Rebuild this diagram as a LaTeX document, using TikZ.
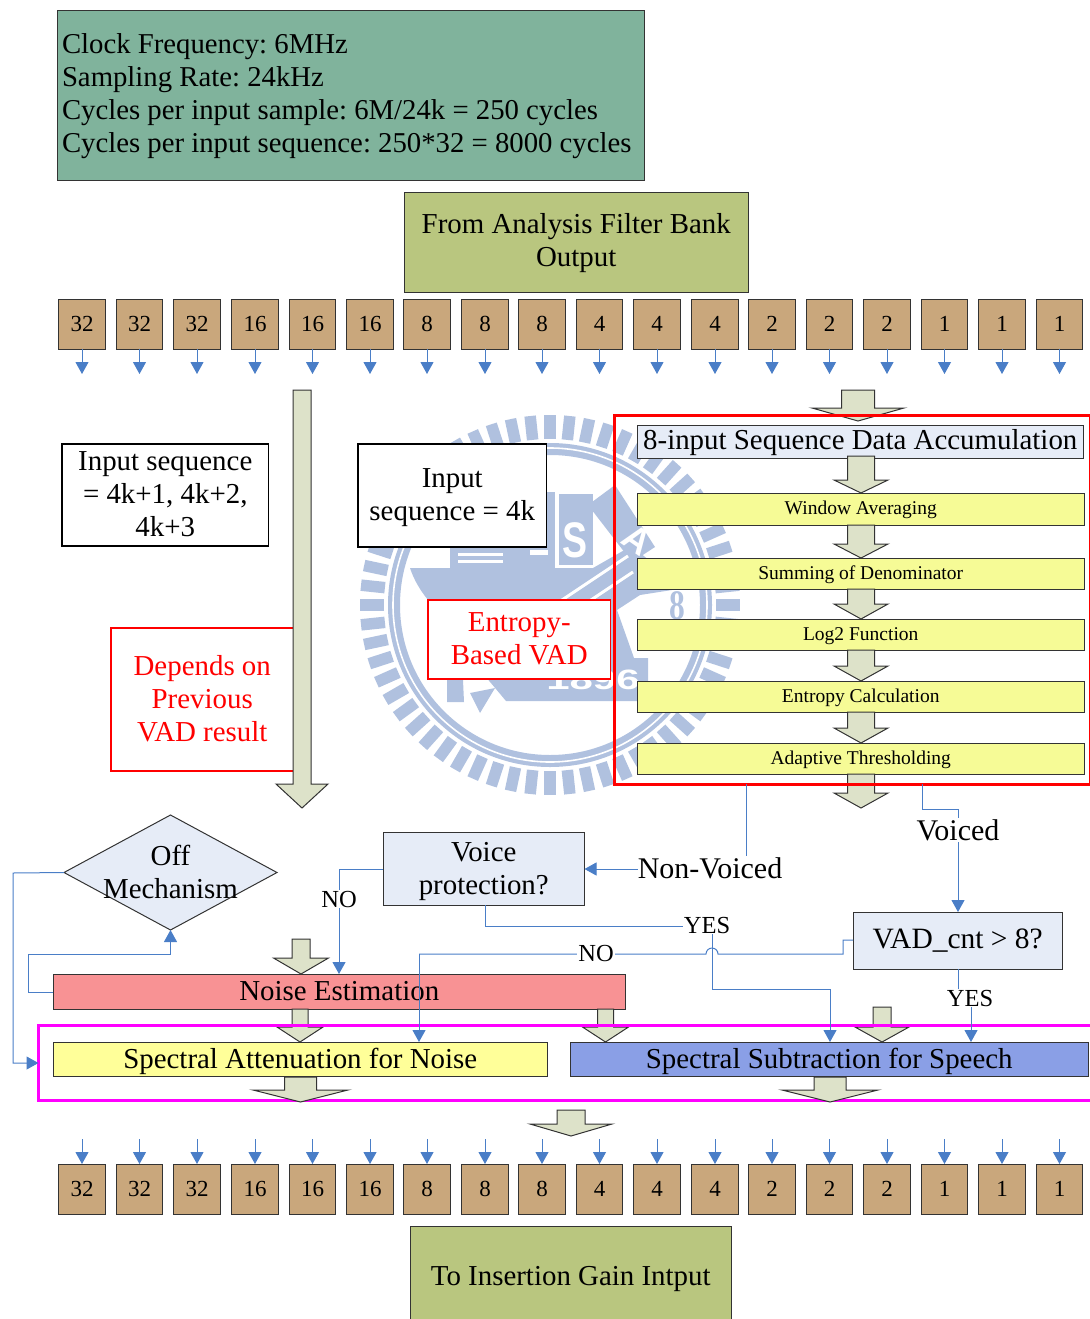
\documentclass[tikz,border=0pt]{standalone}
\usepackage{fontspec}
\setmainfont{Liberation Serif}
\newfontfamily\sealfont{Liberation Sans}
\usetikzlibrary{shapes.geometric,arrows.meta}
\definecolor{conn}{HTML}{4A7EC7}
\definecolor{seal}{HTML}{B0C1DF}
\definecolor{tan}{HTML}{C9A77C}
\definecolor{olive}{HTML}{B9C67F}
\definecolor{green1}{HTML}{80B39C}
\definecolor{pale}{HTML}{E6ECF7}
\definecolor{yel}{HTML}{F6FB96}
\definecolor{yel2}{HTML}{FFFF99}
\definecolor{pinkr}{HTML}{F89294}
\definecolor{blu}{HTML}{8A9FE6}
\definecolor{barr}{HTML}{DDE2C9}
\definecolor{purem}{HTML}{FF00FF}
\definecolor{purer}{HTML}{FF0000}
\tikzset{
 box/.style={draw=black!80,line width=1pt,inner sep=0pt,outer sep=0pt,align=center,anchor=north west},
 num/.style={box,fill=tan,minimum width=46.5pt,minimum height=50pt,anchor=center,font=\fontsize{23}{23}\selectfont},
 fl/.style={conn,line width=1pt},
 fa/.style={fl,-{Triangle[length=12pt,width=13pt]}},
 lab/.style={fill=white,inner sep=1pt,font=\fontsize{24.5}{24.5}\selectfont},
 big/.style={font=\fontsize{28.9}{33}\selectfont},
 small/.style={font=\fontsize{19.5}{22}\selectfont},
 barrow/.style={fill=barr,draw=black!80,line width=1pt},
}
% cx, top, neck, tip, shaft half, head half
\newcommand{\barw}[6]{\draw[barrow] (#1-#5,#2)--(#1+#5,#2)--(#1+#5,#3)--(#1+#6,#3)--(#1,#4)--(#1-#6,#3)--(#1-#5,#3)--cycle;}
\newcommand{\bx}[8]{\node[box,fill=#6,#7,minimum width=#3pt-#1pt-.5pt,minimum height=#4pt-#2pt] (#5) at (#1,#2) {#8};}
\newcommand{\tb}[2]{\raisebox{-#1pt}[\height][\depth]{\begin{tabular}{@{}c@{}}#2\end{tabular}}}
\frenchspacing
\begin{document}
\begin{tikzpicture}[x=1pt,y=-1pt]
\useasboundingbox (0,0) rectangle (1089,1319);
% watermark seal
\begin{scope}[seal]
\foreach \a in {0,6,...,355}{\draw[line width=11.5pt] (550,605)++(\a:166) -- ++(\a:24);}
\draw[line width=12pt] (550,605) circle (156);
\draw[white,line width=1.6pt] (550,605) circle (157);
% hull, bow and stern band
\fill (410,568)--(593,568)--(628,548)--(640,553)--(668,575)--(690,575)--(672,590)--(640,595)--(617,610)--(634,658)--(648,658)--(648,701)--(506,701)--(480,670)--(428,600)..controls (420,590) and (414,580)..(410,568)--cycle;
% diagonal bar with the A
\fill (588,505)--(615,485)--(655,547)--(632,562)--cycle;
% buildings
\fill (559,494) rectangle (593,565);
\fill (503,530) rectangle (555,568);
\fill (547,492) rectangle (555,530);
\fill (450,547) rectangle (520,568);
% flags under the box
\fill (447,680)--(463,680)--(464,702)--(447,702)--cycle;
\fill (470,693)--(495,688)--(480,713)--cycle;
\end{scope}
\fill[white] (458,553) rectangle (503,555.5);
\fill[white] (458,560) rectangle (503,563);
\fill[white] (530,550) rectangle (548,555);
\draw[white,line width=1.2pt] (557,494)--(557,567)--(593,567);
\draw[white,line width=3pt] (553,606)--(628,556);
\draw[white,line width=3pt] (585,604)--(633,572);
\node[white,font=\sealfont\bfseries\fontsize{50}{50}\selectfont,xscale=.75] (sealS) at (575,540) {S};
\node[white,font=\sealfont\bfseries\fontsize{36}{36}\selectfont,rotate=-35] (sealA) at (637,540) {A};
\node[white,font=\sealfont\bfseries\fontsize{28}{28}\selectfont,xscale=1.5] (sealY) at (593,680) {1896};
\node[seal,font=\bfseries\fontsize{42}{42}\selectfont,xscale=.75] (seal8) at (677,606) {8};
% top boxes
\node[box,fill=green1,minimum width=587pt,minimum height=169pt,font=\fontsize{28.75}{33}\selectfont] (info) at (57,11) {\raisebox{-1pt}[\height][\depth]{\parbox{577pt}{\raggedright Clock Frequency: 6MHz\\Sampling Rate: 24kHz\\Cycles per input sample: 6M/24k = 250 cycles\\Cycles per input sequence: 250*32 = 8000 cycles}}};
\bx{404}{192}{749}{292}{from}{olive}{big}{\tb{1}{From Analysis Filter Bank\\Output}}
\bx{410}{1226}{732}{1322}{toins}{olive}{big}{\tb{5}{To Insertion Gain Intput}}
% number rows
\foreach \i/\x/\v in {1/82/32,2/139.5/32,3/197/32,4/255/16,5/312.5/16,6/370/16,7/427/8,8/485/8,9/542/8,10/599.5/4,11/657/4,12/715/4,13/772/2,14/829.5/2,15/887/2,16/944.5/1,17/1002/1,18/1059.5/1}{
 \node[num] (t\i) at (\x,324) {\v};
 \node[num] (b\i) at (\x,1189) {\v};
 \coordinate (te\i) at (\x,374);
 \coordinate (bs\i) at (\x,1139);
 \draw[fa] (t\i.south) -- (te\i);
 \draw[fa] (bs\i) -- (b\i.north);
}
% left side boxes
\bx{62}{444}{269}{546}{seqa}{white}{line width=1.6pt,draw=black,big}{\tb{2}{Input sequence\\= 4k+1, 4k+2,\\4k+3}}
\bx{358}{444}{547}{547}{seqb}{white}{line width=1.6pt,draw=black,big}{\tb{2}{Input\\sequence = 4k}}
\bx{111}{628}{294}{771}{dep}{white}{draw=purer,line width=1.2pt,text=purer,big}{\tb{2}{Depends on\\Previous\\VAD result}}
\bx{428}{600}{611}{679}{ent}{white}{draw=purer,line width=1.2pt,text=purer,big}{\tb{2}{Entropy-\\Based VAD}}
% entropy VAD pipeline
\barw{858}{390}{408}{421}{16.5}{46}
\barw{302}{390}{784}{808}{9}{26}
\bx{637}{425}{1084}{456}{acc}{pale}{big}{\tb{1}{8-input Sequence Data Accumulation}}
\barw{861}{456}{480}{493}{13.5}{27}
\bx{637}{493}{1085}{525}{win}{yel}{small}{\tb{1}{Window Averaging}}
\barw{861}{525}{544}{558}{13.5}{27}
\bx{637}{558}{1085}{589}{sumd}{yel}{small}{\tb{2}{Summing of Denominator}}
\barw{861}{589}{604}{619}{13.5}{27}
\bx{637}{619}{1085}{650}{logf}{yel}{small}{\tb{2}{Log2 Function}}
\barw{861}{650}{666}{681}{13.5}{27}
\bx{637}{681}{1085}{712}{entc}{yel}{small}{\tb{2}{Entropy Calculation}}
\barw{861}{712}{728}{743}{13.5}{27}
\bx{637}{743}{1085}{774}{adap}{yel}{small}{\tb{2}{Adaptive Thresholding}}
\barw{861}{774}{793}{808}{13.5}{27}
\node[draw=purer,line width=3pt,minimum width=476pt,minimum height=369pt,anchor=north west,inner sep=0pt,outer sep=0pt] (vadbox) at (614.5,415.5) {};
% decision row
\node[diamond,draw=black!80,fill=pale,line width=1pt,minimum width=213pt,minimum height=115pt,inner sep=0pt,outer sep=0pt,aspect=1.85] (off) at (170.5,872.5) {};
\node[big,inner sep=0pt] (offt) at (170.5,872.5) {\tb{3}{Off\\Mechanism}};
\bx{383}{832}{585}{905}{voice}{pale}{big}{\tb{3}{Voice\\protection?}}
\bx{853}{912}{1063}{969}{vad}{pale}{font=\fontsize{29.5}{33}\selectfont}{\tb{1}{VAD\_cnt > 8?}}
\bx{53}{974}{626}{1009}{noise}{pinkr}{big}{\tb{2}{Noise Estimation}}
\barw{301}{939}{958}{974}{9}{27.5}
\barw{300}{1009}{1027}{1042}{8}{23}
\barw{605.5}{1009}{1027}{1042}{8}{23}
\barw{882}{1007}{1027}{1042}{9}{27}
\bx{53}{1042}{548}{1076}{atten}{yel2}{big}{\tb{3}{Spectral Attenuation for Noise}}
\bx{570}{1042}{1089}{1076}{subt}{blu}{big}{\tb{3}{Spectral Subtraction for Speech}}
\node[draw=purem,line width=3pt,minimum width=1060pt,minimum height=75pt,anchor=north west,inner sep=0pt,outer sep=0pt] (spec) at (38.5,1025.5) {};
\barw{300.5}{1077}{1090}{1102}{16}{47.5}
\barw{830}{1077}{1090}{1102}{16}{48}
\barw{571}{1110}{1124}{1136}{14}{41}
% connectors
\coordinate (c1) at (13,873); \coordinate (c2) at (13,1063); \coordinate (c3) at (28,992); \coordinate (c4) at (28,954);
\coordinate (nvs) at (746,784); \coordinate (nve) at (746,869);
\coordinate (vs) at (922,784); \coordinate (v1) at (922,809); \coordinate (v2) at (958,809);
\coordinate (yy1) at (485,926); \coordinate (yy2) at (712,926); \coordinate (yy3) at (712,989); \coordinate (yy4) at (830,989);
\coordinate (ny0) at (339,869);
\coordinate (vv0) at (843,940); \coordinate (vv1) at (843,954); \coordinate (vv2) at (419,954);
\coordinate (vy0) at (958,998); \coordinate (vy1) at (971,998);
\draw[fa] (off.west) -- (c1) -- (c2) -- (spec.west |- c2);
\draw[fa] (noise.west |- c3) -- (c3) -- (c4) -- (off.south |- c4) -- (off.south);
\draw[fa] (voice.west |- ny0) -- (ny0) -- (ny0 |- noise.north);
\node[lab] (no1) at (339,899) {NO};
\draw[fa] (nvs) -- (nve) -- (voice.east |- nve);
\node[lab,inner xsep=0pt,font=\fontsize{30}{33}\selectfont] (nvl) at (710,868) {Non-Voiced};
\draw[fa] (vs) -- (v1) -- (v2) -- (v2 |- vad.north);
\node[lab,font=\fontsize{30}{33}\selectfont] (vl) at (958,830) {Voiced};
\draw[fl] (vad.west |- vv0) -- (vv0) -- (vv1) -- (718,954) arc[start angle=0,end angle=180,radius=6pt] -- (vv2);
\draw[fa] (vv2) -- (vv2 |- atten.north);
\node[lab] (no2) at (596,953) {NO};
\draw[fa] (yy1 |- voice.south) -- (yy1) -- (yy2) -- (yy3) -- (yy4) -- (yy4 |- subt.north);
\node[lab] (yes1) at (707,925) {YES};
\draw[fa] (vy0 |- vad.south) -- (vy0) -- (vy1) -- (vy1 |- subt.north);
\node[lab] (yes2) at (970,998) {YES};
\end{tikzpicture}
\end{document}
